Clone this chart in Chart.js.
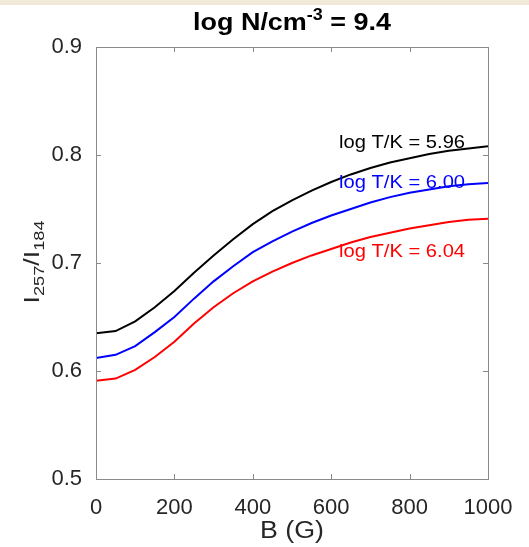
<!DOCTYPE html>
<html>
<head>
<meta charset="utf-8">
<script src="https://cdn.jsdelivr.net/npm/chart.js@4"></script>
<style>
  html, body { margin: 0; padding: 0; background: #fff; }
  canvas { display: block; }
</style>
</head>
<body>
<canvas id="chart" width="529" height="547"></canvas>
<script>
// Magnetic field (G) and line ratio I257/I184 for three temperatures
const bField = [0, 50, 100, 150, 200, 250, 300, 350, 400, 450, 500, 550, 600, 650, 700, 750, 800, 850, 900, 950, 1000];
const ratioT596 = [0.635, 0.637, 0.646, 0.659, 0.674, 0.691, 0.707, 0.722, 0.736, 0.748, 0.758, 0.767, 0.775, 0.782, 0.788, 0.793, 0.797, 0.801, 0.804, 0.806, 0.808];
const ratioT600 = [0.612, 0.615, 0.623, 0.636, 0.650, 0.667, 0.683, 0.697, 0.710, 0.720, 0.729, 0.737, 0.744, 0.750, 0.756, 0.761, 0.765, 0.768, 0.771, 0.773, 0.774];
const ratioT604 = [0.591, 0.593, 0.601, 0.613, 0.627, 0.644, 0.659, 0.672, 0.683, 0.692, 0.700, 0.707, 0.713, 0.719, 0.724, 0.728, 0.732, 0.735, 0.738, 0.740, 0.741];
const seriesLabels = ['log T/K = 5.96', 'log T/K = 6.00', 'log T/K = 6.04'];
const xTicks = [0, 200, 400, 600, 800, 1000];
const yTicks = [0.5, 0.6, 0.7, 0.8, 0.9];

const FONT = '"Liberation Sans", Arial, Helvetica, sans-serif';
const AXIS_COLOR = '#8a8a8a';
const TEXT_COLOR = '#262626';

function toPoints(ys) {
    return bField.map((b, i) => ({ x: b, y: ys[i] }));
}

function lineSet(label, ys, color) {
    return {
        label: label,
        data: toPoints(ys),
        borderColor: color,
        borderWidth: 2,
        pointRadius: 0,
        tension: 0,
        fill: false
    };
}

// draw text made of pieces [text, font, dy], stretched horizontally to a given width
function drawParts(ctx, parts, x, y, align, width) {
    let total = 0;
    parts.forEach(p => { ctx.font = p[1]; total += ctx.measureText(p[0]).width; });
    const s = width ? width / total : 1;
    ctx.save();
    ctx.translate(x, y);
    ctx.scale(s, 1);
    let tx = align === 'center' ? -total / 2 : 0;
    ctx.textAlign = 'left';
    parts.forEach(p => {
        ctx.font = p[1];
        ctx.fillText(p[0], tx, p[2]);
        tx += ctx.measureText(p[0]).width;
    });
    ctx.restore();
}

// Draws the frame, inward ticks, titles and the in-plot labels (MATLAB look)
const decorations = {
    id: 'decorations',
    beforeDraw(chart) {
        const ctx = chart.ctx;
        ctx.save();
        ctx.fillStyle = '#f2ead9';
        ctx.fillRect(0, 0, chart.width, 5);
        ctx.restore();
    },
    afterDraw(chart) {
        const ctx = chart.ctx;
        const a = chart.chartArea;
        const xs = chart.scales.x;
        const ys = chart.scales.y;
        ctx.save();

        // box
        ctx.strokeStyle = AXIS_COLOR;
        ctx.lineWidth = 1;
        ctx.strokeRect(a.left + 0.5, a.top + 0.5, a.right - a.left, a.bottom - a.top);

        // inward ticks on all four sides
        const tl = 5;
        ctx.beginPath();
        xTicks.forEach(v => {
            const px = Math.round(xs.getPixelForValue(v)) + 0.5;
            ctx.moveTo(px, a.bottom); ctx.lineTo(px, a.bottom - tl);
            ctx.moveTo(px, a.top); ctx.lineTo(px, a.top + tl);
        });
        yTicks.forEach(v => {
            const py = Math.round(ys.getPixelForValue(v)) + 0.5;
            ctx.moveTo(a.left, py); ctx.lineTo(a.left + tl, py);
            ctx.moveTo(a.right, py); ctx.lineTo(a.right - tl, py);
        });
        ctx.stroke();

        const cx = (a.left + a.right) / 2;
        ctx.textBaseline = 'alphabetic';

        // title: log N/cm^-3 = 9.4
        ctx.fillStyle = '#000';
        drawParts(ctx, [
            ['log N/cm', 'bold 24px ' + FONT, 0],
            ['-3', 'bold 16px ' + FONT, -10],
            [' = 9.4', 'bold 24px ' + FONT, 0]
        ], cx, 30, 'center', 198);

        // x axis title
        ctx.fillStyle = TEXT_COLOR;
        drawParts(ctx, [['B (G)', '23px ' + FONT, 0]], cx, 538, 'center', 64);

        // y axis title: I257/I184 with subscripts
        ctx.save();
        ctx.translate(39, (a.top + a.bottom) / 2 - 1);
        ctx.rotate(-Math.PI / 2);
        drawParts(ctx, [
            ['I', '22px ' + FONT, 0],
            ['257', '15px ' + FONT, 5],
            ['/I', '22px ' + FONT, 0],
            ['184', '15px ' + FONT, 5]
        ], 0, 0, 'center', 83);
        ctx.restore();

        // series labels placed in data coordinates
        const labelPos = [[620, 0.811], [620, 0.774], [620, 0.710]];
        ctx.textBaseline = 'middle';
        chart.data.datasets.forEach((ds, i) => {
            ctx.fillStyle = ds.borderColor;
            drawParts(ctx, [[seriesLabels[i], '18px ' + FONT, 0]],
                xs.getPixelForValue(labelPos[i][0]), ys.getPixelForValue(labelPos[i][1]), 'left', 126);
        });

        ctx.restore();
    }
};

new Chart(document.getElementById('chart'), {
    type: 'line',
    data: {
        datasets: [
            lineSet(seriesLabels[0], ratioT596, '#000000'),
            lineSet(seriesLabels[1], ratioT600, '#0000ff'),
            lineSet(seriesLabels[2], ratioT604, '#ff0000')
        ]
    },
    options: {
        responsive: false,
        animation: false,
        layout: { padding: { top: 47, right: 41, left: 0, bottom: 0 } },
        plugins: {
            legend: { display: false },
            tooltip: { enabled: false }
        },
        scales: {
            x: {
                type: 'linear',
                min: 0,
                max: 1000,
                afterFit: s => { s.height = 68; },
                afterBuildTicks: s => { s.ticks = xTicks.map(v => ({ value: v })); },
                grid: { display: false, drawTicks: false },
                border: { display: false },
                ticks: {
                    color: TEXT_COLOR,
                    font: { family: FONT, size: 22 },
                    padding: 16,
                    maxRotation: 0,
                    callback: v => String(v)
                }
            },
            y: {
                type: 'linear',
                min: 0.5,
                max: 0.9,
                afterFit: s => { s.width = 96; },
                afterBuildTicks: s => { s.ticks = yTicks.map(v => ({ value: v })); },
                grid: { display: false, drawTicks: false },
                border: { display: false },
                ticks: {
                    color: TEXT_COLOR,
                    font: { family: FONT, size: 22 },
                    padding: 14,
                    callback: v => v.toFixed(1)
                }
            }
        }
    },
    plugins: [decorations]
});
</script>
</body>
</html>
